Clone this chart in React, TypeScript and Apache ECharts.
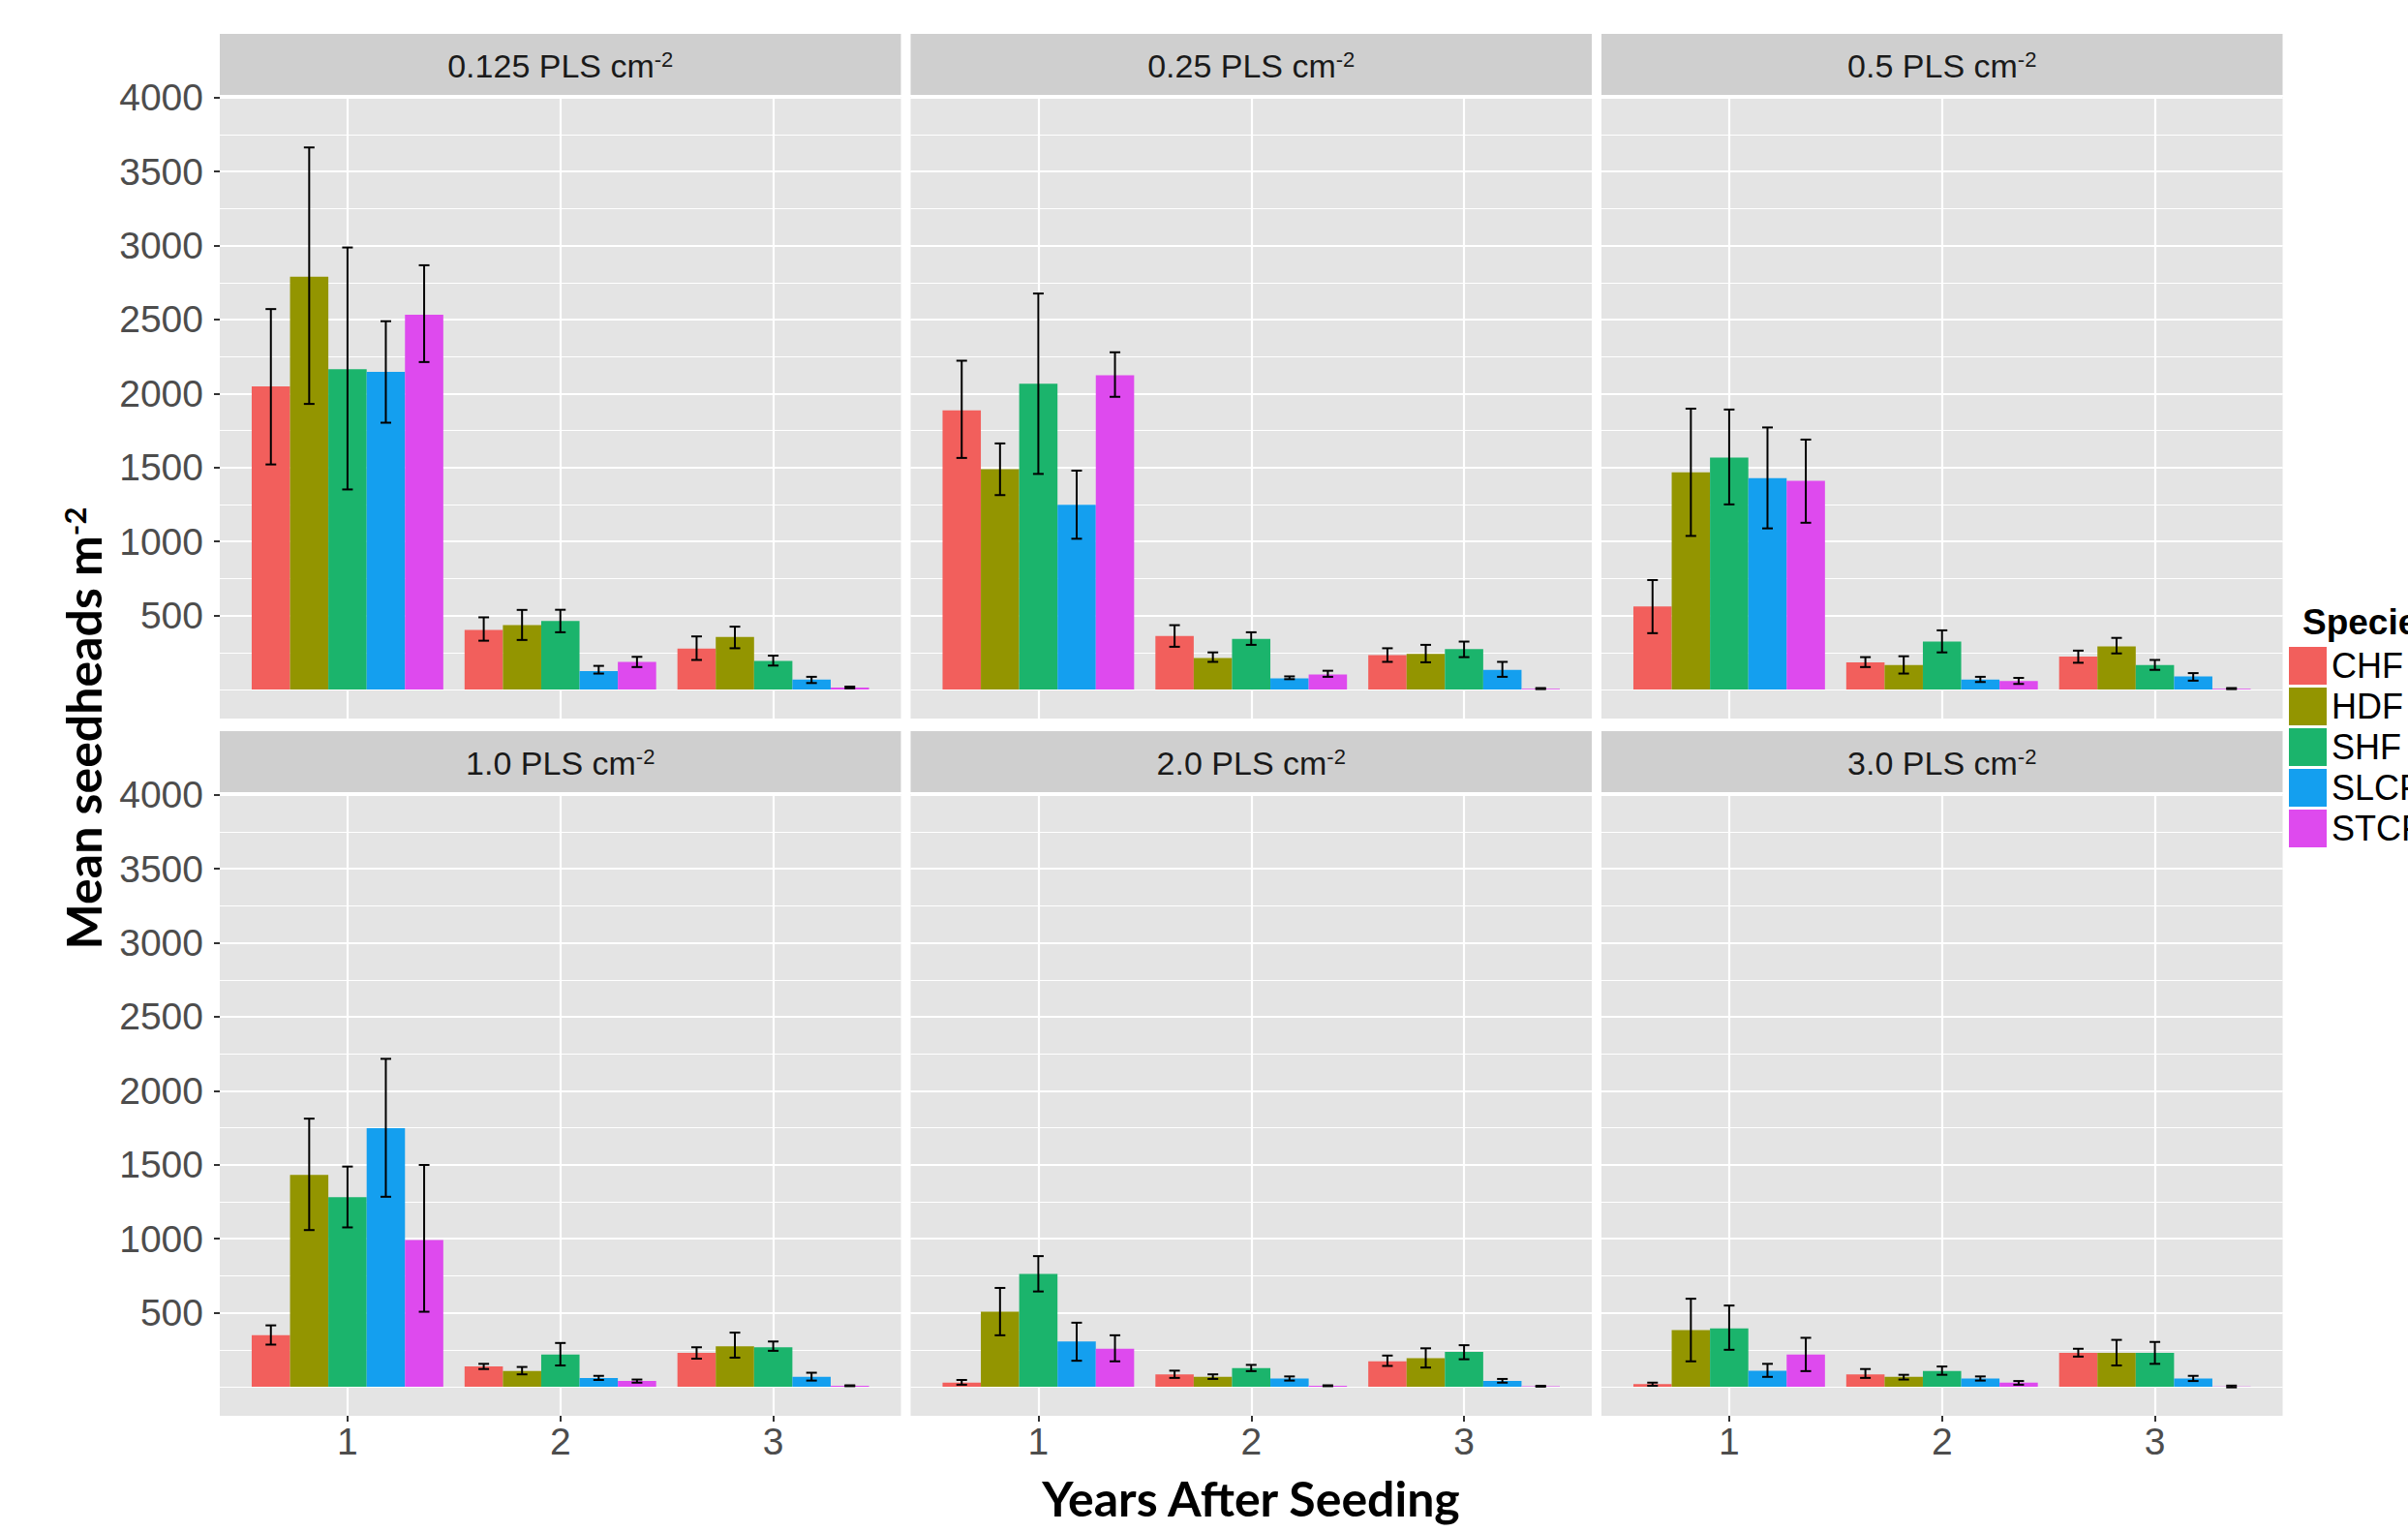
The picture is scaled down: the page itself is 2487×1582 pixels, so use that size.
import React, { useEffect, useRef } from "react";
import * as echarts from "echarts";

// ---------------- DATA ----------------
const species = ["CHF", "HDF", "SHF", "SLCF", "STCF"];
const speciesColors = ["#F25F5C", "#939500", "#1BB46C", "#149FEF", "#DE4AEE"];
const years = [1, 2, 3];
const densityLabels = ["0.125", "0.25", "0.5", "1.0", "2.0", "3.0"];
const yTickLabels = [500, 1000, 1500, 2000, 2500, 3000, 3500, 4000];

// rows: species (CHF, HDF, SHF, SLCF, STCF); columns: years 1, 2, 3
const mean0125 = [[2048, 403, 276], [2790, 435, 356], [2165, 463, 194], [2146, 125, 67], [2533, 186, 13]];
const low0125 = [[1521, 330, 200], [1930, 335, 279], [1352, 387, 162], [1803, 108, 44], [2213, 152, 8]];
const high0125 = [[2571, 488, 359], [3663, 538, 425], [2987, 539, 229], [2489, 160, 86], [2867, 221, 20]];

const mean025 = [[1886, 362, 232], [1489, 213, 241], [2067, 343, 273], [1248, 76, 133], [2124, 102, 6]];
const low025 = [[1565, 289, 187], [1314, 187, 184], [1457, 302, 219], [1019, 70, 86], [1978, 86, 3]];
const high025 = [[2222, 435, 279], [1663, 251, 302], [2676, 387, 324], [1479, 89, 187], [2279, 127, 10]];

const mean05 = [[562, 184, 222], [1467, 165, 292], [1568, 324, 165], [1429, 67, 89], [1410, 57, 6]];
const low05 = [[381, 152, 181], [1038, 108, 244], [1251, 251, 133], [1089, 51, 60], [1127, 38, 3]];
const high05 = [[740, 219, 263], [1898, 225, 349], [1892, 400, 200], [1771, 86, 111], [1689, 79, 10]];

const mean10 = [[348, 137, 229], [1432, 106, 274], [1281, 218, 267], [1748, 60, 67], [992, 39, 7]];
const low10 = [[285, 120, 190], [1059, 84, 197], [1077, 144, 243], [1284, 46, 42], [507, 28, 4]];
const high10 = [[415, 155, 267], [1812, 134, 366], [1488, 296, 306], [2216, 74, 95], [1499, 49, 10]];

const mean20 = [[28, 84, 172], [507, 67, 193], [763, 127, 236], [306, 56, 39], [257, 7, 4]];
const low20 = [[14, 60, 141], [348, 53, 130], [644, 106, 186], [176, 42, 28], [172, 4, 1]];
const high20 = [[46, 109, 211], [668, 84, 260], [883, 148, 281], [433, 70, 53], [348, 10, 7]];

const mean30 = [[18, 84, 229], [383, 67, 229], [394, 106, 229], [109, 56, 56], [218, 28, 2]];
const low30 = [[7, 60, 204], [172, 49, 144], [250, 81, 155], [67, 42, 39], [106, 14, -4]];
const high30 = [[28, 120, 257], [595, 81, 317], [549, 137, 303], [155, 70, 74], [331, 39, 8]];

const panelMeans = [mean0125, mean025, mean05, mean10, mean20, mean30];
const panelLows = [low0125, low025, low05, low10, low20, low30];
const panelHighs = [high0125, high025, high05, high10, high20, high30];

// ---------------- LAYOUT / STYLE ----------------
const COL_LEFT = [227, 940.5, 1654];
const PW = 703.5;
const STRIP_TOP = [35, 755];
const STRIP_H = 63;
const PANEL_TOP = [100, 820];
const PH = 642;
const YMIN = -196;
const YMAX = 4005;
const XMIN = 0.4;
const XMAX = 3.6;
const DODGE = 0.18;

const PANEL_BG = "#E4E4E4";
const STRIP_BG = "#CFCFCF";
const TICK_COLOR = "#333333";
const LABEL_COLOR = "#4D4D4D";
const SANS = "'Liberation Sans', Arial, sans-serif";
const TITLE_FONT = "Lato, 'Open Sans', sans-serif";

function buildOption() {
  const grid: any[] = [];
  const xAxis: any[] = [];
  const yAxis: any[] = [];
  const series: any[] = [];
  const graphic: any[] = [];

  const pxY = PH / (YMAX - YMIN);
  const pxX = PW / (XMAX - XMIN);

  densityLabels.forEach((dens, p) => {
    const r = Math.floor(p / 3);
    const c = p % 3;
    const left = COL_LEFT[c];
    const top = PANEL_TOP[r];
    const y4000 = top + (YMAX - 4000) * pxY;
    const y0 = top + (YMAX - 0) * pxY;
    const y500 = top + (YMAX - 500) * pxY;
    const g0 = grid.length;

    // main grid (background + data)
    grid.push({ left, top, width: PW, height: PH, show: true, backgroundColor: PANEL_BG, borderWidth: 0 });
    xAxis.push({ gridIndex: g0, type: "value", min: XMIN, max: XMAX, show: false });
    yAxis.push({ gridIndex: g0, type: "value", min: YMIN, max: YMAX, show: false });

    // vertical grid lines + x ticks/labels
    grid.push({ left: left + (1 - XMIN) * pxX, top, width: 2 * pxX, height: PH, show: false });
    xAxis.push({
      gridIndex: g0 + 1, type: "value", min: 1, max: 3, interval: 1,
      axisLine: { show: false },
      axisTick: { show: r === 1, length: 6, lineStyle: { color: TICK_COLOR, width: 2 } },
      axisLabel: { show: r === 1, fontSize: 39, color: LABEL_COLOR, fontFamily: SANS, margin: 7, formatter: (v: number) => String(v) },
      splitLine: { show: true, lineStyle: { color: "#FFFFFF", width: 2.2 } },
    });
    yAxis.push({ gridIndex: g0 + 1, type: "value", min: 0, max: 1, show: false });

    // minor horizontal grid lines
    grid.push({ left, top: y4000, width: PW, height: y0 - y4000, show: false });
    xAxis.push({ gridIndex: g0 + 2, type: "value", min: 0, max: 1, show: false });
    yAxis.push({
      gridIndex: g0 + 2, type: "value", min: 0, max: 4000, interval: 250,
      axisLine: { show: false }, axisTick: { show: false }, axisLabel: { show: false },
      splitLine: { show: true, lineStyle: { color: "#FFFFFF", width: 1.1 } },
    });

    // major horizontal grid lines + y ticks/labels
    grid.push({ left, top: y4000, width: PW, height: y500 - y4000, show: false });
    xAxis.push({ gridIndex: g0 + 3, type: "value", min: 0, max: 1, show: false });
    yAxis.push({
      gridIndex: g0 + 3, type: "value", min: yTickLabels[0], max: yTickLabels[yTickLabels.length - 1], interval: 500,
      axisLine: { show: false },
      axisTick: { show: c === 0, length: 6, lineStyle: { color: TICK_COLOR, width: 2 } },
      axisLabel: { show: c === 0, fontSize: 39, color: LABEL_COLOR, fontFamily: SANS, margin: 17, formatter: (v: number) => String(v) },
      splitLine: { show: true, lineStyle: { color: "#FFFFFF", width: 2.2 } },
    });

    const means = panelMeans[p];
    const lows = panelLows[p];
    const highs = panelHighs[p];

    species.forEach((sp, i) => {
      series.push({
        name: sp,
        type: "bar",
        xAxisIndex: g0,
        yAxisIndex: g0,
        barWidth: DODGE * pxX,
        barGap: "0%",
        itemStyle: { color: speciesColors[i] },
        silent: true,
        z: 2,
        data: years.map((yr, j) => [yr, means[i][j]]),
      });
    });

    const errData: number[][] = [];
    species.forEach((sp, i) => {
      years.forEach((yr, j) => {
        errData.push([yr + (i - 2) * DODGE, lows[i][j], highs[i][j]]);
      });
    });
    series.push({
      name: "err" + p,
      type: "custom",
      xAxisIndex: g0,
      yAxisIndex: g0,
      z: 3,
      silent: true,
      encode: { x: 0, y: [1, 2] },
      data: errData,
      renderItem: (params: any, api: any) => {
        const x = api.value(0);
        const hiP = api.coord([x, api.value(2)]);
        const loP = api.coord([x, api.value(1)]);
        const hw = 5.5;
        const st = { stroke: "#000000", lineWidth: 2 };
        return {
          type: "group",
          children: [
            { type: "line", shape: { x1: hiP[0], y1: hiP[1], x2: loP[0], y2: loP[1] }, style: st },
            { type: "line", shape: { x1: hiP[0] - hw, y1: hiP[1], x2: hiP[0] + hw, y2: hiP[1] }, style: st },
            { type: "line", shape: { x1: loP[0] - hw, y1: loP[1], x2: loP[0] + hw, y2: loP[1] }, style: st },
          ],
        };
      },
    });

    // strip
    graphic.push({
      type: "rect",
      shape: { x: left, y: STRIP_TOP[r], width: PW, height: STRIP_H },
      style: { fill: STRIP_BG },
      silent: true,
    });
    graphic.push({
      type: "text",
      x: left + PW / 2,
      y: STRIP_TOP[r] + STRIP_H / 2 + 1,
      silent: true,
      style: {
        text: "{a|" + dens + " PLS cm}{s|-2}",
        align: "center",
        verticalAlign: "middle",
        textAlign: "center",
        textVerticalAlign: "middle",
        rich: {
          a: { fontSize: 34, fontFamily: SANS, fill: "#1A1A1A" },
          s: { fontSize: 22, fontFamily: SANS, fill: "#1A1A1A", verticalAlign: "top" },
        },
      },
    });
  });

  // axis titles
  graphic.push({
    type: "text",
    x: 1292,
    y: 1547,
    silent: true,
    style: {
      text: "Years After Seeding",
      fontSize: 50,
      fontWeight: "bold",
      fontFamily: TITLE_FONT,
      fill: "#000000",
      align: "center",
      verticalAlign: "middle",
      textAlign: "center",
      textVerticalAlign: "middle",
    },
  });
  graphic.push({
    type: "text",
    x: 86,
    y: 752,
    rotation: Math.PI / 2,
    silent: true,
    style: {
      text: "{a|Mean seedheads m}{s|-2}",
      align: "center",
      verticalAlign: "middle",
      textAlign: "center",
      textVerticalAlign: "middle",
      rich: {
        a: { fontSize: 50, fontWeight: "bold", fontFamily: TITLE_FONT, fill: "#000000" },
        s: { fontSize: 31, fontWeight: "bold", fontFamily: TITLE_FONT, fill: "#000000", verticalAlign: "top" },
      },
    },
  });
  graphic.push({
    type: "text",
    x: 2378,
    y: 642,
    silent: true,
    style: {
      text: "Species",
      fontSize: 37,
      fontWeight: "bold",
      fontFamily: SANS,
      fill: "#000000",
      align: "left",
      verticalAlign: "middle",
      textAlign: "left",
      textVerticalAlign: "middle",
    },
  });

  return {
    animation: false,
    backgroundColor: "#FFFFFF",
    grid,
    xAxis,
    yAxis,
    series,
    graphic,
    legend: {
      data: species,
      orient: "vertical",
      left: 2364,
      top: 668,
      padding: 0,
      itemWidth: 39,
      itemHeight: 39,
      itemGap: 3,
      icon: "rect",
      selectedMode: false,
      textStyle: { fontSize: 36, color: "#000000", fontFamily: SANS },
    },
  };
}

export default function App() {
  const ref = useRef<HTMLDivElement>(null);
  useEffect(() => {
    const chart = echarts.init(ref.current as HTMLDivElement, null, { renderer: "svg" });
    chart.setOption(buildOption() as any);
    return () => {
      chart.dispose();
    };
  }, []);
  return (
    <div
      ref={ref}
      style={{ position: "absolute", left: 0, top: 0, width: 2487, height: 1582, background: "#FFFFFF" }}
    />
  );
}
